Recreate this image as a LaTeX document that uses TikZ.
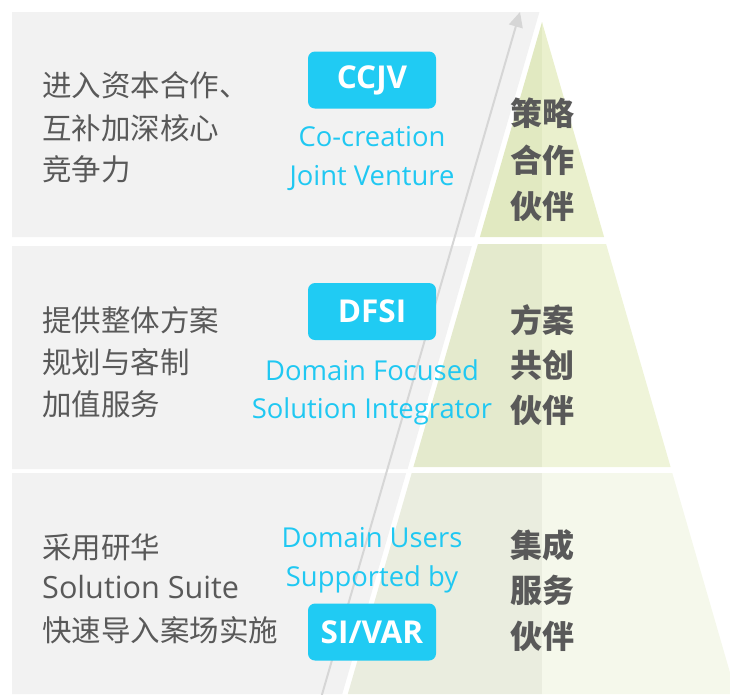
\documentclass[tikz,border=0pt]{standalone}
\usepackage{fontspec}
\setmainfont{Open Sans}
\newfontfamily\cjk{Noto Sans CJK SC}
\usetikzlibrary{arrows.meta}
\definecolor{bandgray}{HTML}{F2F2F2}
\definecolor{tAl}{HTML}{E1E9C1}
\definecolor{tAr}{HTML}{EAF0CD}
\definecolor{tBl}{HTML}{E4EACD}
\definecolor{tBr}{HTML}{EFF4D9}
\definecolor{tCl}{HTML}{EAEDDF}
\definecolor{tCr}{HTML}{F5F8EB}
\definecolor{txtgray}{HTML}{595959}
\definecolor{cyanbox}{HTML}{20CBF3}
\definecolor{cyantxt}{HTML}{20C8F2}
\definecolor{arrowgray}{HTML}{D6D6D6}
\begin{document}
\begin{tikzpicture}[x=1pt,y=-1pt,
  band/.style={fill=bandgray,draw=none},
  lefttext/.style={text=txtgray,font=\cjk\fontsize{29.5}{31}\selectfont,inner sep=0,anchor=base west},
  leftlatin/.style={text=txtgray,font=\fontsize{30.6}{32}\selectfont,inner sep=0,anchor=base west},
  badge/.style={fill=cyanbox,rounded corners=7pt,minimum width=128pt,minimum height=57pt,inner sep=0,text=white,font=\bfseries\fontsize{31.5}{32}\selectfont},
  subtext/.style={text=cyantxt,font=\fontsize{27.4}{28}\selectfont,inner sep=0,anchor=base},
  tiertext/.style={text=txtgray,font=\cjk\bfseries\fontsize{32}{33}\selectfont,inner sep=0,anchor=base},
  arrowline/.style={draw=arrowgray,line width=2pt,-{Triangle[length=15pt,width=14pt]}}]
\useasboundingbox (0,0) rectangle (730,694);
\clip (0,0) rectangle (730,694);
% gray bands
\fill[band] (12,12) -- (539.4,12) -- (474.4,237) -- (12,237) -- cycle;
\fill[band] (12,246) -- (471.8,246) -- (407.6,469) -- (12,469) -- cycle;
\fill[band] (12,473) -- (406.2,473) -- (342.3,694) -- (12,694) -- cycle;
% pyramid tiers
\fill[tAl] (542,22) -- (479.9,237) -- (542,237) -- cycle;
\fill[tAr] (542,22) -- (604.1,237) -- (542,237) -- cycle;
\fill[tBl] (542,244) -- (477.9,244) -- (413.4,467) -- (542,467) -- cycle;
\fill[tBr] (542,244) -- (606.1,244) -- (670.6,467) -- (542,467) -- cycle;
\fill[tCl] (542,473) -- (411.7,473) -- (347.8,694) -- (542,694) -- cycle;
\fill[tCr] (542,473) -- (672.3,473) -- (736.2,694) -- (542,694) -- cycle;
% arrow
\coordinate (arrowstart) at (321,698);
\coordinate (arrowtip) at (520,12);
\draw[arrowline] (arrowstart) -- (arrowtip);
% left texts
\node[lefttext] (la1) at (42,96.2) {进入资本合作、};
\node[lefttext] (la2) at (42,139.2) {互补加深核心};
\node[lefttext] (la3) at (42,180.2) {竞争力};
\node[lefttext] (lb1) at (42,331.2) {提供整体方案};
\node[lefttext] (lb2) at (42,373.2) {规划与客制};
\node[lefttext] (lb3) at (42,415.2) {加值服务};
\node[lefttext] (lc1) at (42,558.2) {采用研华};
\node[leftlatin] (lc2) at (42,598) {Solution Suite};
\node[lefttext] (lc3) at (42,641.2) {快速导入案场实施};
% badges
\node[badge] (ccjv) at (372,80) {CCJV};
\node[badge] (dfsi) at (372,311.5) {DFSI};
\node[badge] (sivar) at (372,632) {SI/VAR};
% cyan subtitles
\node[subtext] (sa1) at (372,146) {Co-creation};
\node[subtext] (sa2) at (372,185) {Joint Venture};
\node[subtext] (sb1) at (372,380) {Domain Focused};
\node[subtext] (sb2) at (372,418.5) {Solution Integrator};
\node[subtext] (sc1) at (372,547.5) {Domain Users};
\node[subtext] (sc2) at (372,586) {Supported by};
% tier labels
\node[tiertext] (ta1) at (542.5,125) {策略};
\node[tiertext] (ta2) at (542.5,172) {合作};
\node[tiertext] (ta3) at (542.5,218) {伙伴};
\node[tiertext] (tb1) at (542.5,332) {方案};
\node[tiertext] (tb2) at (542.5,377) {共创};
\node[tiertext] (tb3) at (542.5,422) {伙伴};
\node[tiertext] (tc1) at (542.5,557) {集成};
\node[tiertext] (tc2) at (542.5,602) {服务};
\node[tiertext] (tc3) at (542.5,648) {伙伴};
\end{tikzpicture}
\end{document}
